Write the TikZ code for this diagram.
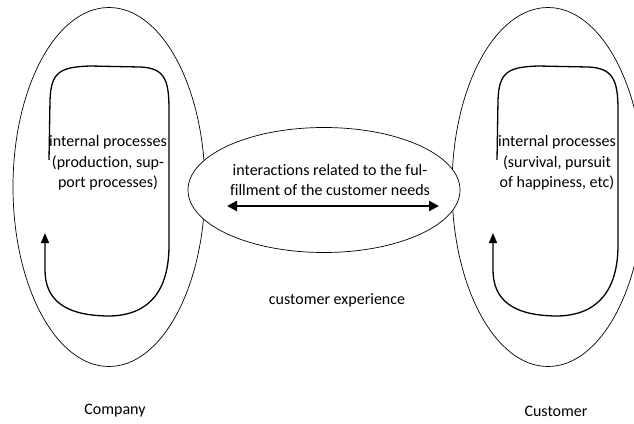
\documentclass[tikz,border=0pt]{standalone}
\usepackage{fontspec}
\setmainfont{Carlito}[Ligatures=NoCommon]
\usetikzlibrary{shapes, arrows.meta, positioning, calc}

\begin{document}
\begin{tikzpicture}[x=1pt, y=-1pt,
  realm/.style={draw, ellipse, line width=0.7pt, minimum width=192pt, minimum height=359pt, inner sep=0pt},
  meeting/.style={draw, ellipse, line width=0.7pt, minimum width=272pt, minimum height=125pt, inner sep=0pt},
  txt/.style={font=\fontsize{16}{20.5}\selectfont, align=center},
  cycle/.style={line width=1.3pt, -{Triangle[length=10pt, width=8pt]}},
  both/.style={{Triangle[length=10pt, width=10pt]}-{Triangle[length=10pt, width=10pt]}, line width=2.6pt}
]
  \useasboundingbox (0,0) rectangle (634,423);
  \clip (0,0) rectangle (634,423);

  % Company side
  \node[realm] (company) at (109,187) {};
  \draw[cycle] (49,160) -- (50,100) .. controls (51,72) and (60,67) .. (90,66) -- (140,67)
    .. controls (165,68) and (169,80) .. (169,110) -- (169,245)
    .. controls (169,290) and (150,315) .. (110,316)
    .. controls (65,316) and (45,300) .. (45,270) -- (45,233);
  \node[txt] (compproc) at (108,163) {internal processes\\(production, sup-\\port processes)};
  \node[txt] (complabel) at (115,411) {Company};

  % Customer side
  \node[realm] (customer) at (548,187) {};
  \begin{scope}[xshift=448]
    \draw[cycle] (49,160) -- (50,100) .. controls (51,72) and (60,67) .. (90,66) -- (140,67)
      .. controls (165,68) and (170,80) .. (170,110) -- (170,245)
      .. controls (170,290) and (150,315) .. (110,316)
      .. controls (65,316) and (45,300) .. (45,270) -- (45,233);
  \end{scope}
  \node[txt] (custproc) at (557,163) {internal processes\\(survival, pursuit\\of happiness, etc)};
  \node[txt] (custlabel) at (556,411) {Customer};

  % Interactions
  \node[meeting, fill=white] (touch) at (324,190) {};
  \node[txt] (needs) at (330,180) {interactions related to the ful-\\fillment of the customer needs};
  \coordinate (needL) at (227,206);
  \coordinate (needR) at (439,206);
  \draw[both] (needL) -- (needR);
  \node[txt] (experience) at (337,300) {customer experience};
\end{tikzpicture}
\end{document}
